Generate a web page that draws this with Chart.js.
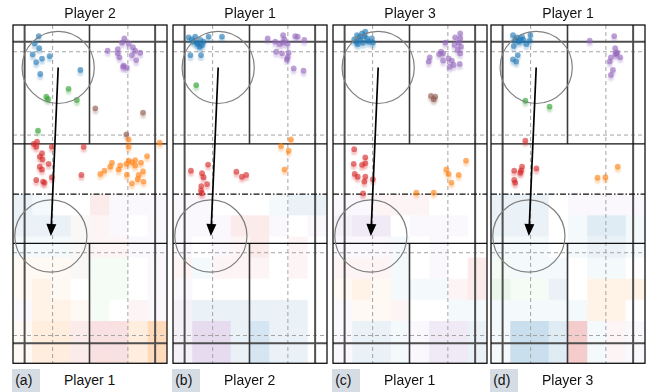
<!DOCTYPE html>
<html>
<head>
<meta charset="utf-8">
<script src="https://cdn.jsdelivr.net/npm/chart.js@4.4.1/dist/chart.umd.min.js"></script>
<style>
  html, body { margin: 0; padding: 0; }
  body { width: 652px; height: 392px; background: #fff; position: relative; overflow: hidden;
         font-family: "Liberation Sans", Arial, sans-serif; color: #111; }
  .panel { position: absolute; top: 0; }
  .tag { position: absolute; top: 369px; height: 23px; width: 28px; background: #d6dce4;
         font-size: 14px; line-height: 23px; padding-left: 3px; box-sizing: border-box; }
  .who { position: absolute; top: 369px; height: 23px; width: 154px; text-align: center;
         font-size: 14px; line-height: 23px; }
</style>
</head>
<body>
<script>
// ---- titles / captions ----
const panelTitles = ['Player 2', 'Player 1', 'Player 3', 'Player 1'];
const panelTags = ['(a)', '(b)', '(c)', '(d)'];
const panelReceivers = ['Player 1', 'Player 2', 'Player 1', 'Player 3'];

// ---- shot landing points, court metres [x across, y from far baseline] ----
const a_blue = [[1.02,0.44],[0.86,0.73],[1.04,0.92],[0.78,1.16],[1.15,1.33],[1.45,1.23],[0.92,1.47],[1.08,1.94],[2.67,1.78]];
const a_orange = [[4.58,4.53],[5.81,4.66],[4.58,4.82],[5.31,5.19],[4.84,5.35],[4.58,5.37],[4.71,5.43],[4.49,5.5],[3.92,5.45],[4.25,5.56],[4.18,5.72],[3.85,5.61],[5.07,5.45],[3.46,5.9],[3.62,5.77],[4.51,5.93],[5.15,5.8],[4.98,5.94],[5.17,6.2],[4.71,6.27],[4.94,6.11],[4.84,5.57]];
const a_green = [[2.2,2.53],[1.32,2.84],[1.39,2.94],[2.53,2.97],[0.99,4.18]];
const a_red = [[0.82,4.71],[0.95,4.62],[0.92,4.82],[1.54,4.82],[2.8,4.82],[1.15,5.08],[1.06,5.21],[1.17,5.32],[1.41,5.5],[1.06,5.61],[1.15,5.72],[1.54,6.03],[2.71,5.94],[0.92,6.14],[1.19,6.2],[1.25,6.24]];
const a_purple = [[4.41,0.53],[4.32,0.70],[4.58,0.73],[3.75,1.02],[4.15,0.96],[4.75,0.88],[4.84,1.02],[5.04,1.10],[4.22,1.28],[4.15,1.12],[4.71,1.19],[4.88,1.39],[4.38,1.60],[4.51,1.68],[4.36,1.65]];
const a_brown = [[3.26,3.3],[5.15,3.47],[4.49,4.33]];

const b_blue = [[0.62,0.49],[0.75,0.57],[0.88,0.46],[0.82,0.66],[0.95,0.70],[1.08,0.59],[1.15,0.79],[1.06,0.86],[0.98,0.75],[1.41,0.46],[1.94,0.46],[0.69,1.19],[1.11,1.19],[1.21,0.66]];
const b_orange = [[4.67,4.53],[4.28,4.79],[4.58,4.98],[4.42,5.72]];
const b_green = [[0.92,2.38]];
const b_red = [[0.71,5.77],[1.39,5.53],[1.15,5.87],[1.21,6.03],[2.51,5.81],[2.73,6.01],[2.9,5.94],[1.35,6.3],[1.12,6.38],[1.11,6.56],[1.15,6.66]];
const b_purple = [[3.75,0.53],[4.05,0.66],[4.36,0.40],[4.41,0.57],[4.84,0.44],[4.94,0.46],[5.2,0.59],[4.22,0.75],[4.36,0.70],[4.54,0.73],[4.09,1.06],[4.32,1.12],[4.58,1.10],[4.54,1.28],[4.51,1.36],[4.78,1.72],[5.17,1.81]];
const b_brown = [];

const c_blue = [[0.95,0.40],[1.06,0.46],[1.15,0.33],[1.25,0.44],[1.08,0.59],[0.92,0.66],[1.28,0.26],[1.35,0.53],[1.54,0.53],[1.58,0.70],[0.98,0.75],[1.19,0.70],[0.84,0.57],[1.41,0.66]];
const c_orange = [[5.27,5.37],[4.49,5.72],[4.58,5.9],[4.98,5.94],[4.69,6.24],[3.3,6.64],[3.99,6.64]];
const c_green = [];
const c_red = [[0.84,4.92],[0.82,5.5],[1.15,5.54],[1.28,5.48],[1.28,5.24],[0.86,5.9],[0.98,6.01],[1.28,6.01],[1.58,6.11],[1.24,6.2],[1.19,6.67]];
const c_purple = [[5.04,0.33],[4.84,0.49],[5.04,0.53],[4.45,0.70],[4.98,0.70],[4.81,0.79],[5.07,0.86],[4.94,0.99],[5.04,1.12],[4.28,1.06],[4.36,1.12],[4.2,1.15],[3.83,1.28],[3.79,1.45],[4.36,1.41],[4.58,1.32],[4.71,1.41],[4.78,1.58],[5.02,1.54],[4.62,1.65]];
const c_brown = [[3.88,2.81],[4.05,2.84],[3.99,2.94]];

const d_blue = [[0.87,0.40],[1.03,0.49],[1.16,0.57],[0.96,0.59],[1.29,0.59],[1.56,0.40],[1.53,0.62],[1.4,0.75],[0.87,1.36],[1.0,1.45],[1.06,1.19],[0.9,0.83],[1.23,0.46],[1.1,0.66]];
const d_orange = [[5.02,5.61],[4.22,6.05],[4.53,6.03]];
const d_green = [[1.36,3.0],[2.32,3.23]];
const d_red = [[1.36,4.58],[0.92,5.77],[1.19,5.77],[1.16,5.85],[1.23,5.61],[1.8,5.68],[0.92,6.14],[0.96,6.24]];
const d_purple = [[3.91,0.62],[4.88,0.44],[4.92,0.92],[4.96,1.12],[5.0,1.09],[4.93,1.15],[4.75,1.28],[4.7,1.45],[5.12,1.28],[4.83,1.78],[4.75,1.98]];
const d_brown = [];

// ---- receiving-half density grid: 8 rows (net -> baseline) x 8 columns ----
// letter = dominant shot type (b o g r p n, '.' none), digit = strength 0-9
const a_heatType = ['bb..rppp','bbbnrp.p','bbbnrrpp','ooongg.p','ooo.gg.p','pooog.rp','ooorrroo','ooorrroo'];
const a_heatLevel = ['21002111','22211101','11111111','11111101','12101101','12211011','13323336','13323336'];
const b_heatType = ['pp...bbb','ppprrp.p','p.prr.r.','rbrrr.r.','p.......','pbbbbbb.','pppbbbb.','pppbbbb.'];
const b_heatLevel = ['11000122','11122101','10112010','11111010','10000000','22222220','25524220','25524220'];
const c_heatType = ['pprrr...','ppp.ppp.','pppb.p..','rrrb.p.r','ooobbbrr','poor..bb','pbbbpppb','pbbbpppb'];
const c_heatLevel = ['11111000','23301110','11110100','11110102','12111112','11110011','12211332','12211332'];
const d_heatType = ['bbb.pppp','bbb.bbbb','bbb.bbbb','gbbb.bb.','gggb.ooo','bbbbboo.','bbbbrbrp','bbbbrbrp'];
const d_heatLevel = ['22201111','22201331','11101221','11110110','21120222','11111220','15535111','15535111'];

// ---- movement: from shot origin to predicted return area ----
const moveFrom = [1.79, 1.68];
const moveTo = [1.50, 8.36];
const zoneRadius = 1.43;

// ---------------------------------------------------------------
const COURT_W = 6.1, COURT_L = 13.4, NET = 6.7;
const shotKeys = ['blue', 'orange', 'green', 'red', 'purple', 'brown'];
const shotRGB = { blue: '31,119,180', orange: '255,127,14', green: '44,160,44',
                  red: '214,39,40', purple: '148,103,189', brown: '140,86,75' };
const letterKey = { b: 'blue', o: 'orange', g: 'green', r: 'red', p: 'purple', n: 'brown' };

const panels = [
  { pts: { blue: a_blue, orange: a_orange, green: a_green, red: a_red, purple: a_purple, brown: a_brown }, heatType: a_heatType, heatLevel: a_heatLevel },
  { pts: { blue: b_blue, orange: b_orange, green: b_green, red: b_red, purple: b_purple, brown: b_brown }, heatType: b_heatType, heatLevel: b_heatLevel },
  { pts: { blue: c_blue, orange: c_orange, green: c_green, red: c_red, purple: c_purple, brown: c_brown }, heatType: c_heatType, heatLevel: c_heatLevel },
  { pts: { blue: d_blue, orange: d_orange, green: d_green, red: d_red, purple: d_purple, brown: d_brown }, heatType: d_heatType, heatLevel: d_heatLevel }
];
const panelLeft = [12.7, 172.7, 332.7, 490.7];

function seg(ctx, x, y, x0, y0, x1, y1) {
  ctx.beginPath();
  ctx.moveTo(x.getPixelForValue(x0), y.getPixelForValue(y0));
  ctx.lineTo(x.getPixelForValue(x1), y.getPixelForValue(y1));
  ctx.stroke();
}

const courtPlugin = {
  id: 'court',
  beforeDatasetsDraw(chart, args, opts) {
    const { ctx, scales: { x, y } } = chart;
    const p = opts.panel;
    ctx.save();
    // density cells in the receiving half
    const cw = COURT_W / 8, ch = (COURT_L - NET) / 8;
    for (let r = 0; r < 8; r++) {
      for (let c = 0; c < 8; c++) {
        const key = letterKey[p.heatType[r][c]];
        const lvl = +p.heatLevel[r][c];
        if (!key || !lvl) continue;
        const x0 = x.getPixelForValue(c * cw), x1 = x.getPixelForValue((c + 1) * cw);
        const y0 = y.getPixelForValue(NET + r * ch), y1 = y.getPixelForValue(NET + (r + 1) * ch);
        ctx.fillStyle = `rgba(${shotRGB[key]},${(lvl * 0.047).toFixed(3)})`;
        ctx.fillRect(x0, y0, x1 - x0, y1 - y0);
      }
    }
    // dashed guide lines
    ctx.strokeStyle = '#a3a3a3'; ctx.lineWidth = 1; ctx.setLineDash([4, 3]);
    [1.57, 4.55].forEach(v => seg(ctx, x, y, v, 0, v, COURT_L));
    [1.06, 4.36, 9.02, 12.3].forEach(v => seg(ctx, x, y, 0, v, COURT_W, v));
    ctx.setLineDash([]);
    // singles side lines and long service lines
    ctx.strokeStyle = '#4f4f4f'; ctx.lineWidth = 2;
    [0.46, 5.63].forEach(v => seg(ctx, x, y, v, 0, v, COURT_L));
    [0.66, 12.61].forEach(v => seg(ctx, x, y, 0, v, COURT_W, v));
    // centre lines
    ctx.strokeStyle = '#3a3a3a'; ctx.lineWidth = 1.6;
    seg(ctx, x, y, 3.03, 0, 3.03, 4.71);
    seg(ctx, x, y, 3.03, 8.65, 3.03, COURT_L);
    // short service lines
    ctx.strokeStyle = '#111'; ctx.lineWidth = 1.3;
    [4.71, 8.65].forEach(v => seg(ctx, x, y, 0, v, COURT_W, v));
    // net
    ctx.setLineDash([6, 2, 1.5, 2]); ctx.lineWidth = 1.3;
    seg(ctx, x, y, 0, NET, COURT_W, NET);
    ctx.setLineDash([]);
    // outer boundary
    ctx.lineWidth = 1.3; ctx.strokeStyle = '#111';
    const L = x.getPixelForValue(0), R = x.getPixelForValue(COURT_W);
    const T = y.getPixelForValue(0), B = y.getPixelForValue(COURT_L);
    ctx.strokeRect(L, T, R - L, B - T);
    ctx.restore();
  },
  beforeDatasetDraw(chart, args) {
    const ctx = chart.ctx;
    const key = chart.data.datasets[args.index].label;
    ctx.save();
    ctx.shadowColor = `rgba(${shotRGB[key]},0.45)`;
    ctx.shadowOffsetY = 3;
    ctx.shadowBlur = 2;
  },
  afterDatasetDraw(chart) { chart.ctx.restore(); },
  afterDatasetsDraw(chart) {
    const { ctx, scales: { x, y } } = chart;
    const rad = x.getPixelForValue(zoneRadius) - x.getPixelForValue(0);
    const fx = x.getPixelForValue(moveFrom[0]), fy = y.getPixelForValue(moveFrom[1]);
    const tx = x.getPixelForValue(moveTo[0]), ty = y.getPixelForValue(moveTo[1]);
    ctx.save();
    ctx.strokeStyle = '#7f7f7f'; ctx.lineWidth = 1.2;
    [[fx, fy], [tx, ty]].forEach(([cx, cy]) => { ctx.beginPath(); ctx.arc(cx, cy, rad, 0, Math.PI * 2); ctx.stroke(); });
    // arrow
    const ang = Math.atan2(ty - fy, tx - fx);
    const head = 12, half = 5;
    const bx = tx - head * Math.cos(ang), by = ty - head * Math.sin(ang);
    ctx.strokeStyle = '#000'; ctx.lineWidth = 1.7;
    ctx.beginPath(); ctx.moveTo(fx, fy); ctx.lineTo(bx, by); ctx.stroke();
    ctx.fillStyle = '#000';
    ctx.beginPath();
    ctx.moveTo(tx, ty);
    ctx.lineTo(bx + half * Math.sin(ang), by - half * Math.cos(ang));
    ctx.lineTo(bx - half * Math.sin(ang), by + half * Math.cos(ang));
    ctx.closePath(); ctx.fill();
    ctx.restore();
  }
};

panels.forEach((p, i) => {
  const left = panelLeft[i];
  const cv = document.createElement('canvas');
  cv.className = 'panel';
  cv.width = 162; cv.height = 368;
  cv.style.left = (left - 4) + 'px';
  cv.style.width = '162px'; cv.style.height = '368px';
  document.body.appendChild(cv);

  const tag = document.createElement('div');
  tag.className = 'tag'; tag.textContent = panelTags[i];
  tag.style.left = (left - 0.5) + 'px';
  document.body.appendChild(tag);
  const who = document.createElement('div');
  who.className = 'who'; who.textContent = panelReceivers[i];
  who.style.left = left + 'px';
  document.body.appendChild(who);

  new Chart(cv, {
    type: 'scatter',
    data: {
      datasets: shotKeys.map(k => ({
        label: k,
        data: p.pts[k].map(([px, py]) => ({ x: px, y: py })),
        backgroundColor: `rgba(${shotRGB[k]},0.62)`,
        borderWidth: 0,
        pointRadius: 2.9
      }))
    },
    options: {
      responsive: false,
      animation: false,
      devicePixelRatio: 1,
      layout: { padding: { left: 4, right: 4, top: 0, bottom: 4.7 } },
      plugins: {
        legend: { display: false },
        tooltip: { enabled: false },
        title: {
          display: true, text: panelTitles[i], color: '#111',
          font: { family: '"Liberation Sans", Arial, sans-serif', size: 14, weight: 'normal', lineHeight: 1.2 },
          padding: { top: 6, bottom: 2.2 }
        },
        court: { panel: p }
      },
      scales: {
        x: { type: 'linear', min: 0, max: COURT_W, display: false },
        y: { type: 'linear', min: 0, max: COURT_L, reverse: true, display: false }
      }
    },
    plugins: [courtPlugin]
  });
});
</script>
</body>
</html>
